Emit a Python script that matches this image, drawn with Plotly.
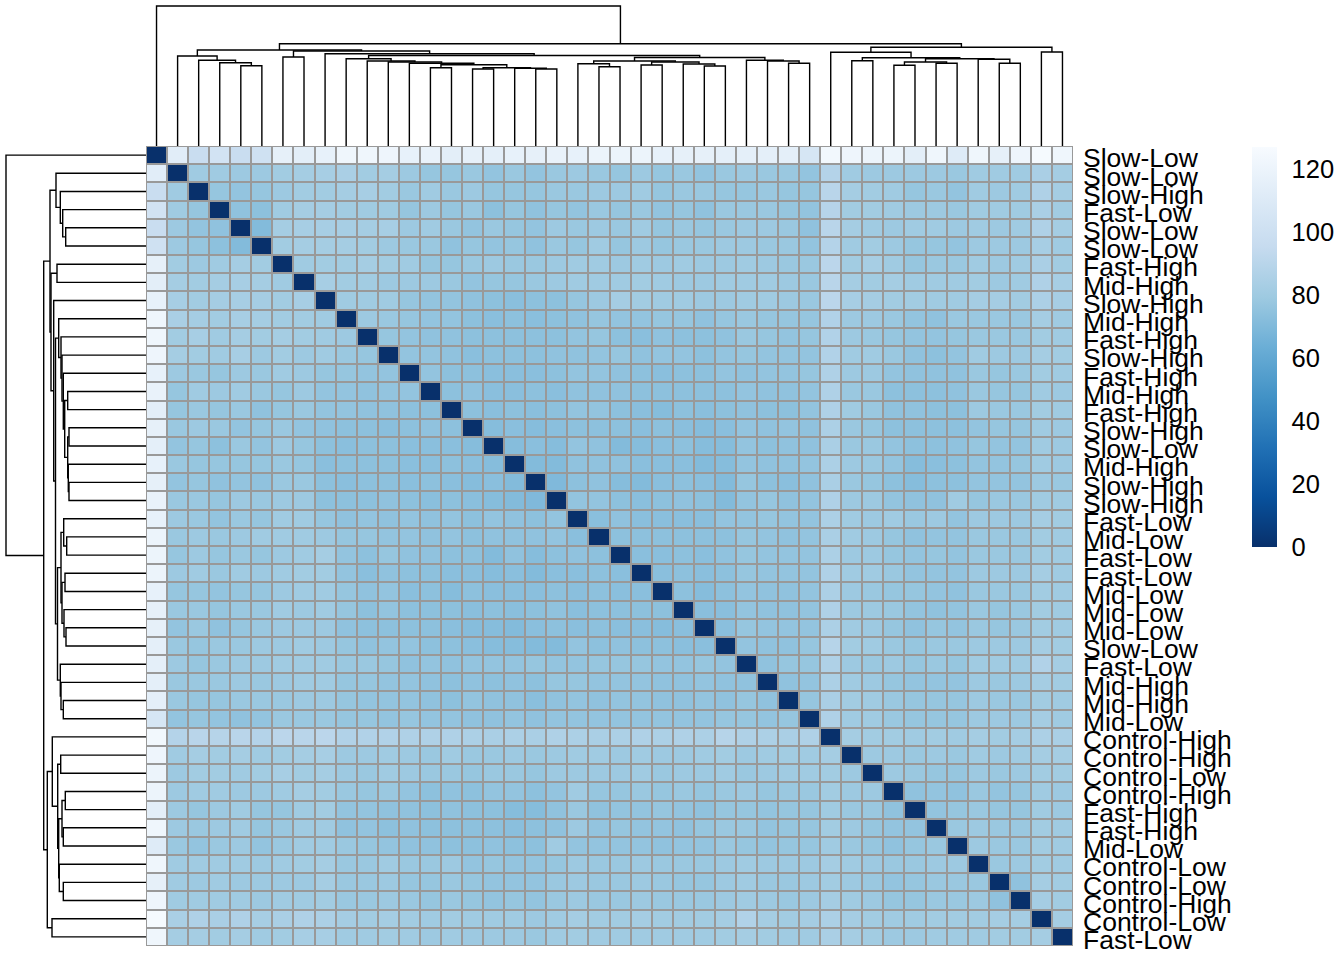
import numpy as np
import plotly.graph_objects as go

# ---------------- data ----------------
row_labels = [
    "Slow-Low", "Slow-Low", "Slow-High", "Fast-Low", "Slow-Low", "Slow-Low",
    "Fast-High", "Mid-High", "Slow-High", "Mid-High", "Fast-High", "Slow-High",
    "Fast-High", "Mid-High", "Fast-High", "Slow-High", "Slow-Low", "Mid-High",
    "Slow-High", "Slow-High", "Fast-Low", "Mid-Low", "Fast-Low", "Fast-Low",
    "Mid-Low", "Mid-Low", "Mid-Low", "Slow-Low", "Fast-Low", "Mid-High",
    "Mid-High", "Mid-Low", "Control-High", "Control-High", "Control-Low",
    "Control-High", "Fast-High", "Fast-High", "Mid-Low", "Control-Low",
    "Control-Low", "Control-High", "Control-Low", "Fast-Low",
]

# lower triangle of the (symmetric) distance matrix, row by row (cols 1..r-1)
tri_rows = [
    [],
    [113],
    [97, 80],
    [103, 80, 77],
    [97, 79, 76, 75],
    [101, 79, 77, 74, 71],
    [116, 81, 79, 80, 82, 81],
    [114, 82, 81, 82, 83, 82, 80],
    [117, 83, 81, 82, 83, 82, 81, 83],
    [122, 84, 82, 81, 83, 82, 81, 81, 80],
    [122, 81, 83, 80, 82, 81, 82, 81, 80, 79],
    [121, 82, 81, 80, 83, 79, 81, 79, 80, 78, 77],
    [117, 79, 78, 77, 79, 78, 80, 79, 77, 77, 76, 76],
    [118, 77, 80, 79, 80, 78, 77, 79, 76, 76, 75, 76, 76],
    [114, 77, 78, 77, 78, 75, 77, 78, 76, 76, 75, 75, 74, 74],
    [116, 78, 79, 78, 76, 77, 78, 76, 75, 74, 74, 73, 74, 75, 74],
    [115, 76, 77, 74, 78, 76, 79, 77, 74, 73, 74, 74, 73, 73, 73, 72],
    [117, 78, 77, 77, 77, 77, 78, 77, 73, 74, 74, 74, 73, 73, 74, 73, 72],
    [116, 76, 77, 75, 76, 75, 78, 78, 74, 73, 74, 74, 73, 74, 73, 72, 73, 71],
    [118, 78, 78, 77, 79, 78, 79, 79, 74, 74, 74, 75, 74, 73, 74, 73, 72, 71, 70],
    [117, 79, 78, 76, 78, 77, 80, 80, 77, 75, 76, 75, 76, 75, 76, 74, 76, 75, 74, 76],
    [120, 78, 79, 78, 79, 80, 80, 80, 79, 77, 77, 76, 76, 75, 76, 74, 75, 75, 75, 76, 73],
    [120, 77, 79, 77, 78, 77, 79, 80, 82, 76, 74, 77, 75, 75, 74, 74, 71, 75, 72, 74, 75, 74],
    [120, 79, 80, 78, 80, 79, 80, 81, 81, 76, 73, 75, 74, 74, 73, 73, 72, 73, 71, 73, 73, 74, 73],
    [117, 77, 77, 76, 77, 77, 79, 80, 80, 77, 75, 76, 73, 74, 72, 74, 73, 73, 73, 74, 73, 74, 73, 73],
    [116, 78, 78, 77, 78, 78, 80, 79, 80, 77, 74, 76, 74, 74, 74, 73, 74, 73, 74, 75, 73, 74, 74, 74, 74],
    [116, 76, 78, 75, 77, 78, 79, 79, 79, 75, 74, 74, 74, 74, 73, 72, 72, 71, 73, 74, 73, 74, 73, 73, 72, 73],
    [115, 78, 77, 78, 78, 79, 79, 80, 79, 77, 75, 76, 76, 74, 74, 73, 72, 72, 71, 71, 76, 74, 75, 74, 74, 73, 73],
    [115, 79, 77, 78, 79, 79, 80, 80, 80, 78, 78, 77, 75, 76, 75, 76, 76, 76, 77, 76, 76, 77, 77, 77, 76, 76, 77, 76],
    [115, 78, 78, 78, 79, 78, 79, 80, 80, 77, 77, 76, 76, 75, 74, 75, 74, 75, 74, 77, 77, 76, 76, 76, 75, 75, 76, 75, 75],
    [115, 78, 77, 77, 78, 78, 78, 79, 79, 77, 76, 76, 76, 75, 74, 76, 75, 75, 73, 75, 76, 75, 76, 76, 75, 75, 76, 75, 77, 75],
    [106, 76, 77, 76, 75, 76, 78, 78, 78, 77, 77, 76, 77, 76, 76, 75, 75, 76, 75, 76, 76, 76, 76, 76, 76, 76, 76, 77, 77, 76, 77],
    [124, 88, 90, 89, 90, 88, 91, 90, 91, 87, 87, 87, 86, 86, 86, 85, 84, 85, 84, 86, 85, 84, 85, 86, 85, 86, 85, 89, 86, 85, 84, 86],
    [121, 80, 82, 81, 82, 80, 81, 82, 83, 79, 79, 80, 79, 78, 80, 78, 78, 79, 78, 79, 80, 80, 79, 80, 79, 79, 80, 81, 79, 80, 81, 80, 82],
    [120, 79, 81, 81, 80, 81, 83, 81, 82, 79, 78, 80, 79, 78, 78, 77, 78, 78, 77, 79, 79, 79, 79, 80, 78, 79, 79, 80, 78, 79, 80, 80, 81, 79],
    [120, 79, 80, 80, 79, 79, 80, 82, 81, 78, 77, 78, 76, 74, 75, 74, 76, 76, 74, 76, 80, 77, 77, 78, 77, 78, 77, 78, 79, 77, 78, 78, 81, 79, 79],
    [114, 79, 77, 79, 80, 77, 77, 80, 81, 76, 76, 75, 75, 74, 75, 74, 74, 72, 72, 75, 78, 75, 76, 76, 77, 76, 75, 77, 77, 76, 77, 77, 80, 78, 78, 75],
    [122, 79, 78, 79, 80, 77, 78, 80, 80, 75, 76, 74, 75, 74, 74, 74, 74, 73, 74, 75, 79, 76, 77, 76, 76, 75, 77, 78, 78, 76, 77, 77, 81, 79, 77, 76, 76],
    [111, 78, 76, 78, 79, 76, 78, 80, 80, 78, 77, 76, 75, 75, 74, 74, 75, 74, 74, 80, 76, 76, 76, 76, 75, 76, 76, 78, 77, 76, 77, 77, 80, 78, 77, 75, 77, 78],
    [122, 80, 80, 80, 80, 79, 80, 81, 82, 78, 78, 80, 78, 78, 79, 76, 77, 76, 76, 77, 79, 78, 78, 79, 78, 78, 78, 79, 80, 79, 79, 79, 82, 80, 79, 78, 78, 79, 79],
    [116, 80, 79, 80, 79, 79, 79, 79, 82, 78, 78, 79, 77, 77, 78, 77, 76, 76, 76, 78, 79, 78, 78, 79, 78, 77, 77, 79, 80, 78, 78, 79, 81, 79, 78, 76, 77, 78, 78, 78],
    [121, 80, 80, 80, 80, 79, 80, 80, 81, 78, 78, 79, 78, 77, 78, 77, 76, 77, 76, 78, 79, 78, 78, 79, 78, 78, 78, 79, 80, 79, 78, 79, 82, 80, 79, 77, 77, 78, 78, 79, 75],
    [126, 84, 86, 84, 86, 83, 84, 86, 85, 82, 81, 82, 81, 80, 81, 80, 80, 80, 79, 80, 82, 81, 81, 82, 81, 81, 81, 82, 87, 82, 81, 82, 85, 82, 81, 80, 80, 81, 81, 81, 82, 82],
    [122, 82, 82, 81, 82, 80, 81, 83, 83, 80, 80, 81, 80, 79, 80, 79, 79, 79, 78, 80, 81, 80, 80, 80, 80, 80, 80, 81, 82, 81, 80, 80, 84, 82, 81, 79, 79, 80, 80, 80, 81, 81, 82],
]

# hierarchical clustering merges (children: leaf number or earlier node name), merge height
merges = [
    ("a5_6", 5, 6, 80.3), ("a4_6", 4, "a5_6", 83.3), ("a3_6", 3, "a4_6", 85.7),
    ("a2_6", 2, "a3_6", 90.0), ("a7_8", 7, 8, 89.0),
    ("a14_15", 14, 15, 78.3), ("a16_17", 16, 17, 77.0), ("a19_20", 19, 20, 77.0),
    ("a18_20", 18, "a19_20", 77.7), ("a16_20", "a16_17", "a18_20", 78.3),
    ("a14_20", "a14_15", "a16_20", 81.3), ("a13_20", 13, "a14_20", 82.7),
    ("a12_20", 12, "a13_20", 84.0), ("a11_20", 11, "a12_20", 85.0),
    ("a10_20", 10, "a11_20", 87.3),
    ("a22_23", 22, 23, 79.3), ("a21_23", 21, "a22_23", 82.3),
    ("a24_25", 24, 25, 81.0), ("a27_28", 27, 28, 80.0), ("a26_28", 26, "a27_28", 82.0),
    ("a24_28", "a24_25", "a26_28", 84.0), ("a21_28", "a21_23", "a24_28", 85.0),
    ("a31_32", 31, 32, 82.7), ("a30_32", 30, "a31_32", 85.0), ("a29_32", 29, "a30_32", 85.7),
    ("a21_32", "a21_28", "a29_32", 88.5), ("a10_32", "a10_20", "a21_32", 90.5),
    ("a9_32", 9, "a10_32", 92.3), ("a7_32", "a7_8", "a9_32", 95.0),
    ("A", "a2_6", "a7_32", 96.0),
    ("b34_35", 34, 35, 85.3), ("b36_37", 36, 37, 80.7), ("b38_39", 38, 39, 82.7),
    ("b41_42", 41, 42, 82.7), ("b40_42", 40, "b41_42", 86.7),
    ("b36_39", "b36_37", "b38_39", 84.0), ("b36_42", "b36_39", "b40_42", 87.3),
    ("b34_42", "b34_35", "b36_42", 88.3), ("b33_42", 33, "b34_42", 93.7),
    ("b43_44", 43, 44, 94.0), ("B", "b33_42", "b43_44", 98.7),
    ("AB", "A", "B", 102.3), ("root", 1, "AB", 140.0),
]

colorbar_ticks = [0, 20, 40, 60, 80, 100, 120]
blues_rev = ["#08306B", "#08519C", "#2171B5", "#4292C6", "#6BAED6",
             "#9ECAE1", "#C6DBEF", "#DEEBF7", "#F7FBFF"]

# ---------------- build matrix ----------------
n = len(row_labels)
Z = np.zeros((n, n))
for i, row in enumerate(tri_rows):
    for j, v in enumerate(row):
        Z[i, j] = v
        Z[j, i] = v

# ---------------- dendrogram geometry ----------------
pos = {k: k - 1 for k in range(1, n + 1)}
hgt = {k: 0.0 for k in range(1, n + 1)}
seg_p, seg_h = [], []
for name, a, b, h in merges:
    pa, pb = pos[a], pos[b]
    ha, hb = hgt[a], hgt[b]
    seg_p += [pa, pa, pb, pb, None]
    seg_h += [ha, h, h, hb, None]
    pos[name] = (pa + pb) / 2
    hgt[name] = h

W, H = 1344, 960
hm_left, hm_right, hm_top, hm_bottom = 146, 1073, 146, 946
font_family = "Liberation Sans, Arial, sans-serif"

fig = go.Figure()

fig.add_trace(go.Heatmap(
    z=Z, x=list(range(n)), y=list(range(n)),
    colorscale=[[i / 8, c] for i, c in enumerate(blues_rev)],
    zmin=0, zmax=127, xgap=2, ygap=2,
    hoverinfo="z",
    colorbar=dict(
        x=1252 / W, xanchor="left", y=1 - 547 / H, yanchor="bottom",
        len=400, lenmode="pixels", thickness=25, xpad=0, ypad=0,
        outlinewidth=0, tickvals=colorbar_ticks, ticks="outside", ticklen=10,
        tickcolor="rgba(0,0,0,0)",
        tickfont=dict(family=font_family, size=25.5, color="black"),
    ),
    xaxis="x", yaxis="y",
))

fig.add_trace(go.Scatter(
    x=seg_p, y=seg_h, mode="lines", line=dict(color="black", width=1.4),
    xaxis="x2", yaxis="y2", hoverinfo="skip", showlegend=False,
))
fig.add_trace(go.Scatter(
    x=seg_h, y=seg_p, mode="lines", line=dict(color="black", width=1.4),
    xaxis="x3", yaxis="y3", hoverinfo="skip", showlegend=False,
))

hx = [hm_left / W, hm_right / W]
hy = [1 - hm_bottom / H, 1 - hm_top / H]
hidden = dict(visible=False, showgrid=False, zeroline=False, automargin=False)

fig.update_layout(
    width=W, height=H, margin=dict(l=0, r=0, t=0, b=0, autoexpand=False),
    paper_bgcolor="white", plot_bgcolor="white", showlegend=False,
    font=dict(family=font_family, color="black"),
    xaxis=dict(domain=hx, range=[-0.5, n - 0.5], anchor="y", **hidden),
    yaxis=dict(domain=hy, range=[n - 0.5, -0.5], anchor="x", side="right",
               tickmode="array", tickvals=list(range(n)), ticktext=row_labels,
               showgrid=False, zeroline=False, showline=False, ticks="",
               automargin=False, ticklabelstandoff=9, ticklabelshift=-3,
               tickfont=dict(family=font_family, size=26.5, color="black")),
    xaxis2=dict(domain=hx, range=[-0.5, n - 0.5], anchor="y2", **hidden),
    yaxis2=dict(domain=[1 - hm_top / H, 1 - 4 / H], range=[0, 142], anchor="x2", **hidden),
    xaxis3=dict(domain=[4 / W, hm_left / W], range=[142, 0], anchor="y3", **hidden),
    yaxis3=dict(domain=hy, range=[n - 0.5, -0.5], anchor="x3", **hidden),
    shapes=[dict(type="rect", xref="x", yref="y", x0=-0.5, x1=n - 0.5,
                 y0=-0.5, y1=n - 0.5, fillcolor="#999999",
                 line=dict(color="#999999", width=2), layer="below")],
)

fig.write_html("out.html")
